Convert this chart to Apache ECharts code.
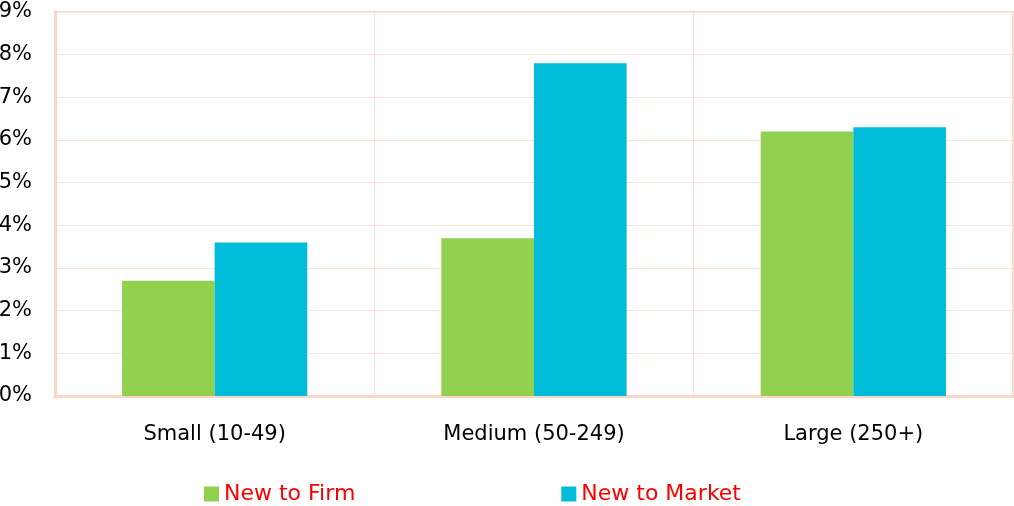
<!DOCTYPE html>
<html>
<head>
<meta charset="utf-8">
<script src="https://cdn.jsdelivr.net/npm/echarts@6/dist/echarts.min.js"></script>
<style>
html, body { margin: 0; padding: 0; background: #fff; }
#chart { width: 1014px; height: 506px; }
</style>
</head>
<body>
<div id="chart"></div>
<script>
const categories = ['Small (10-49)', 'Medium (50-249)', 'Large (250+)'];
const newToFirm = [2.7, 3.7, 6.2];
const newToMarket = [3.6, 7.8, 6.3];

const myChart = echarts.init(document.getElementById('chart'));

const font = 'DejaVu Sans';

let option = {
    animation: false,
    grid: {
        left: 55,
        right: 1,
        top: 12,
        bottom: 110,
        outerBoundsMode: 'none',
        show: true,
        borderColor: '#fcd9c9',
        borderWidth: 2
    },
    legend: {
        top: 478,
        left: 199,
        itemWidth: 15,
        itemHeight: 15,
        itemGap: 206,
        icon: 'rect',
        textStyle: {
            color: '#ff0000',
            fontSize: 22,
            fontFamily: font
        },
        data: ['New to Firm', 'New to Market']
    },
    xAxis: {
        type: 'category',
        data: categories,
        axisLine: { lineStyle: { color: '#fcd5c4', width: 3 } },
        axisTick: { show: false },
        splitLine: { show: true, lineStyle: { color: '#fbe0d5', width: 1 } },
        axisLabel: {
            color: '#000',
            fontSize: 21,
            fontFamily: font,
            margin: 28
        }
    },
    yAxis: {
        type: 'value',
        min: 0,
        max: 9,
        interval: 1,
        axisLine: { show: true, lineStyle: { color: '#fcd5c4', width: 3 } },
        axisTick: { show: false },
        splitLine: { lineStyle: { color: '#fde4da', width: 1 } },
        axisLabel: {
            formatter: '{value}%',
            color: '#000',
            fontSize: 21,
            fontFamily: font,
            margin: 23
        }
    },
    series: [
        {
            name: 'New to Firm',
            type: 'bar',
            color: '#92d050',
            barGap: '0%',
            barCategoryGap: '42%',
            data: newToFirm
        },
        {
            name: 'New to Market',
            type: 'bar',
            color: '#00bcd9',
            data: newToMarket
        }
    ]
};

myChart.setOption(option);
</script>
</body>
</html>
